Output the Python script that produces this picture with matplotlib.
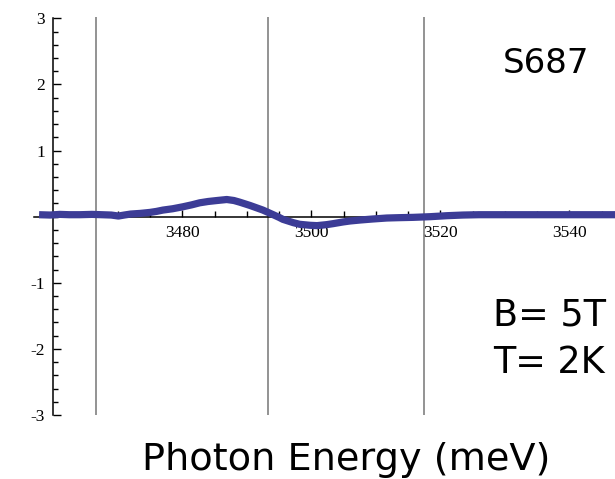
import matplotlib
matplotlib.use("Agg")
import matplotlib.pyplot as plt
from matplotlib.ticker import FixedLocator

# ---- data ----
energy = [3457.8, 3459.5, 3461.0, 3462.5, 3464.1, 3466.0, 3467.5, 3469.0, 3470.1,
          3471.0, 3472.0, 3473.5, 3475.0, 3476.0, 3477.0, 3478.5, 3480.1, 3481.5,
          3482.7, 3484.0, 3485.4, 3486.9, 3488.0, 3488.9, 3490.5, 3491.5, 3492.5,
          3493.3, 3494.1, 3495.0, 3495.6, 3497.2, 3498.2, 3499.8, 3500.9, 3502.4,
          3503.4, 3504.9, 3506.0, 3507.6, 3509.5, 3511.7, 3513.5, 3515.8, 3518.4,
          3521.0, 3523.5, 3526.0, 3530.0, 3534.0, 3538.0, 3542.0, 3547.5]
signal = [0.03, 0.025, 0.035, 0.03, 0.03, 0.035, 0.03, 0.025, 0.01,
          0.025, 0.04, 0.05, 0.065, 0.08, 0.10, 0.12, 0.15, 0.18,
          0.21, 0.23, 0.245, 0.26, 0.245, 0.22, 0.17, 0.135, 0.10,
          0.065, 0.03, -0.01, -0.04, -0.09, -0.115, -0.13, -0.135, -0.12,
          -0.105, -0.08, -0.065, -0.05, -0.035, -0.02, -0.015, -0.01, 0.0,
          0.015, 0.025, 0.03, 0.03, 0.03, 0.03, 0.03, 0.03]
marker_lines = [3466.7, 3493.3, 3517.5]
x_major = [3480, 3500, 3520, 3540]
x_labels = ["3480", "3500", "3520", "3540"]
y_major = [-3, -2, -1, 1, 2, 3]
y_labels = ["-3", "-2", "-1", "1", "2", "3"]
sample_label = "S687"
cond_labels = ["B= 5T", "T= 2K"]
xlabel = "Photon Energy (meV)"

W, H = 615, 479
fig = plt.figure(figsize=(W / 100, H / 100), dpi=100)
ax = fig.add_axes([0, 0, 1, 1])
ax.patch.set_alpha(0)

ax.set_xlim(3451.74, 3547.09)
ax.set_ylim(-3.968, 3.278)

for s in ("top", "right"):
    ax.spines[s].set_visible(False)
ax.spines["left"].set_position(("data", 3460.0))
ax.spines["bottom"].set_position(("data", 0))
ax.spines["left"].set_bounds(-3, 3)
ax.spines["bottom"].set_bounds(3457.0, 3547.09)
for s in ("left", "bottom"):
    ax.spines[s].set_linewidth(1.1)
    ax.spines[s].set_color("black")
    ax.spines[s].set_zorder(1)

ax.vlines(marker_lines, -3, 3.02, colors="#8a8a8a", linewidth=1.3, zorder=1)

ax.plot(energy, signal, color="#3c3c96", linewidth=5.2, solid_capstyle="butt",
        solid_joinstyle="round", zorder=3)

ax.xaxis.set_major_locator(FixedLocator(x_major))
ax.set_xticklabels(x_labels)
ax.xaxis.set_minor_locator(FixedLocator([3460 + 5 * i for i in range(18)]))
ax.yaxis.set_major_locator(FixedLocator(y_major))
ax.set_yticklabels(y_labels)
ax.yaxis.set_minor_locator(FixedLocator([round(-3 + 0.2 * i, 2) for i in range(31)]))

ax.tick_params(axis="x", which="major", direction="in", length=5, width=1, pad=6,
               labelsize=12.5)
ax.tick_params(axis="x", which="minor", direction="in", length=4, width=1)
ax.tick_params(axis="y", which="major", direction="in", length=5.5, width=1, pad=6,
               labelsize=12.5)
ax.tick_params(axis="y", which="minor", direction="in", length=3.5, width=1)
for lab in ax.get_xticklabels() + ax.get_yticklabels():
    lab.set_fontfamily("Liberation Serif")

def px(x, y):
    return x / W, 1 - y / H

fig.text(*px(503, 73), sample_label, fontsize=24.5, family="DejaVu Sans",
         ha="left", va="baseline")
fig.text(*px(493, 326), cond_labels[0], fontsize=26.3, family="DejaVu Sans",
         ha="left", va="baseline")
fig.text(*px(493, 373), cond_labels[1], fontsize=26.3, family="DejaVu Sans",
         ha="left", va="baseline")
fig.text(*px(346, 470), xlabel, fontsize=27.5, family="DejaVu Sans",
         ha="center", va="baseline")

fig.savefig("out.png", dpi=100, facecolor="white")
